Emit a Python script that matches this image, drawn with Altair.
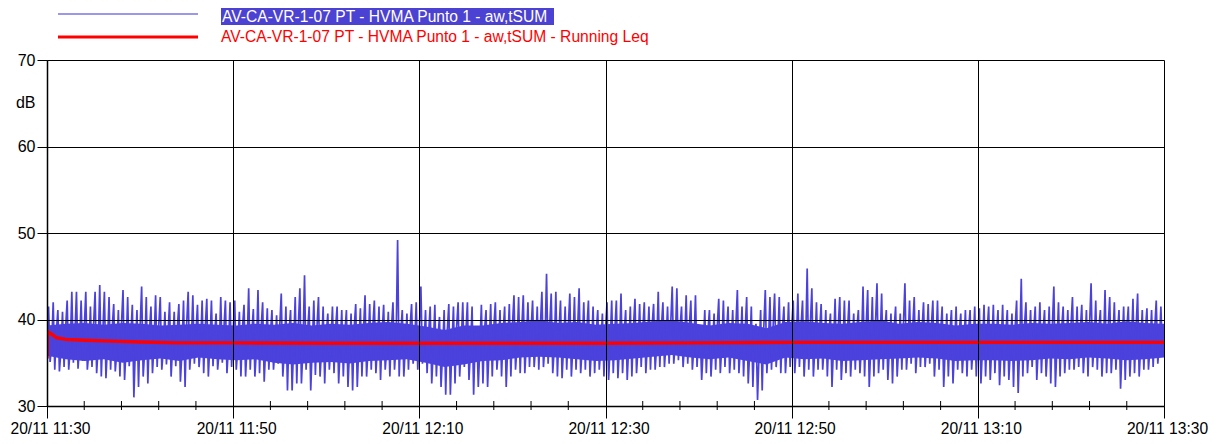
import altair as alt
import pandas as pd

# ---- data ----
# blue series: 6 samples per minute (every 10 s), 20 minutes per block
seg1 = [
    37.5, 41.5, 35.1, 37.0, 42.0, 34.2,
    38.5, 41.1, 34.0, 36.5, 40.9, 34.5,
    39.0, 42.2, 34.2, 36.8, 43.2, 35.0,
    38.2, 43.2, 34.3, 37.2, 42.2, 35.2,
    38.8, 43.2, 34.2, 36.4, 41.5, 34.5,
    39.2, 43.2, 33.8, 36.9, 44.0, 33.4,
    38.6, 43.2, 33.2, 37.1, 42.6, 34.2,
    38.9, 41.8, 34.0, 36.3, 41.1, 33.4,
    39.4, 43.4, 33.0, 36.8, 42.6, 34.6,
    38.1, 41.7, 31.0, 37.0, 41.1, 32.2,
    39.0, 43.8, 33.4, 36.6, 42.6, 32.6,
    38.4, 41.5, 33.8, 37.3, 42.8, 34.5,
    39.1, 42.6, 34.2, 36.7, 40.9, 34.8,
    38.3, 42.0, 33.4, 37.0, 40.9, 34.6,
    38.9, 41.8, 32.8, 36.4, 42.2, 32.2,
    39.3, 43.2, 34.2, 37.1, 42.8, 34.9,
    38.5, 41.7, 34.5, 36.8, 42.2, 33.8,
    39.0, 42.4, 33.4, 37.2, 42.2, 34.6,
    38.2, 40.7, 34.2, 36.5, 42.6, 35.0,
    38.8, 42.2, 33.8, 37.0, 42.0, 34.5,
]
seg2 = [
    38.6, 42.2, 34.2, 36.8, 40.9, 33.4,
    39.0, 41.7, 33.4, 37.1, 43.6, 34.2,
    38.4, 41.2, 33.4, 36.6, 43.4, 33.8,
    38.9, 42.0, 32.8, 37.0, 41.3, 34.2,
    38.2, 41.1, 34.2, 36.9, 40.5, 34.9,
    39.1, 43.0, 33.4, 36.5, 41.5, 31.8,
    38.5, 41.1, 31.8, 37.2, 42.6, 32.6,
    39.2, 43.6, 32.6, 36.8, 45.1, 34.2,
    38.7, 41.5, 31.8, 37.0, 42.2, 33.6,
    39.0, 42.6, 33.4, 36.6, 41.5, 32.6,
    38.3, 40.7, 34.2, 37.2, 41.5, 33.8,
    38.9, 41.5, 32.6, 36.9, 41.1, 33.4,
    38.4, 41.1, 32.2, 36.5, 40.7, 31.8,
    39.0, 41.8, 32.2, 37.1, 41.3, 33.4,
    38.6, 42.8, 33.4, 36.8, 41.8, 34.2,
    39.1, 42.2, 33.8, 37.0, 41.5, 33.0,
    38.3, 41.7, 34.2, 36.6, 40.9, 33.4,
    38.8, 42.0, 34.2, 37.1, 49.2, 33.4,
    38.5, 41.1, 33.4, 36.9, 40.7, 34.2,
    39.0, 41.8, 34.9, 37.2, 42.0, 34.2,
]
seg3 = [
    38.8, 43.8, 34.9, 37.0, 41.1, 33.8,
    38.4, 41.5, 32.6, 36.7, 41.7, 33.4,
    38.0, 40.3, 32.2, 36.4, 41.1, 31.3,
    38.6, 41.8, 31.3, 36.9, 41.5, 32.6,
    39.0, 42.0, 33.4, 37.2, 42.0, 34.5,
    38.5, 42.0, 33.0, 36.6, 41.5, 31.3,
    37.8, 39.2, 32.2, 36.8, 41.7, 32.6,
    38.7, 41.1, 32.2, 37.0, 41.8, 33.4,
    39.0, 42.0, 34.2, 36.7, 41.1, 33.4,
    38.4, 41.5, 32.2, 37.1, 41.8, 33.4,
    39.2, 42.8, 34.2, 37.0, 42.6, 33.8,
    38.8, 42.8, 33.8, 37.3, 42.0, 34.5,
    38.6, 42.2, 34.5, 37.0, 41.5, 34.2,
    39.1, 43.2, 34.5, 37.2, 45.3, 34.9,
    38.9, 43.0, 33.8, 36.8, 43.2, 33.4,
    38.5, 42.2, 33.2, 37.0, 41.5, 34.2,
    39.0, 43.0, 33.4, 37.1, 42.6, 34.2,
    38.7, 43.6, 33.8, 36.9, 42.0, 34.2,
    38.9, 42.2, 33.4, 36.8, 41.5, 33.8,
    38.4, 41.1, 34.2, 37.0, 40.7, 33.4,
]
seg4 = [
    38.8, 42.0, 33.0, 37.0, 42.2, 33.8,
    38.6, 42.2, 33.2, 36.9, 43.0, 33.8,
    38.3, 41.1, 33.0, 37.1, 41.5, 33.4,
    39.0, 42.4, 33.8, 36.8, 41.8, 34.5,
    38.7, 42.0, 33.8, 37.2, 41.5, 34.2,
    39.1, 41.8, 34.2, 37.0, 43.2, 34.5,
    38.9, 42.0, 34.5, 37.3, 41.5, 34.9,
    39.3, 43.8, 34.9, 37.5, 43.6, 35.3,
    38.8, 41.5, 34.5, 37.2, 42.8, 34.9,
    39.0, 42.2, 34.2, 37.0, 42.8, 34.5,
    38.2, 38.8, 33.0, 36.8, 41.1, 33.8,
    38.6, 41.1, 33.4, 37.0, 40.7, 34.2,
    39.0, 42.4, 33.8, 37.1, 42.2, 34.5,
    38.5, 41.5, 33.8, 36.9, 41.1, 34.2,
    39.1, 43.4, 33.8, 37.0, 41.5, 33.4,
    38.6, 42.6, 32.6, 36.5, 41.5, 32.2,
    37.8, 39.5, 30.7, 36.2, 41.1, 31.8,
    38.9, 43.4, 33.8, 37.1, 42.6, 34.2,
    39.0, 43.0, 34.5, 37.2, 42.6, 33.8,
    38.7, 41.5, 33.8, 37.0, 42.0, 34.5,
]
seg5 = [
    38.9, 42.2, 33.8, 37.1, 43.0, 34.5,
    39.0, 42.2, 33.4, 37.0, 45.9, 34.2,
    39.2, 43.6, 33.4, 36.9, 42.0, 34.2,
    38.6, 41.8, 34.2, 37.0, 41.1, 33.4,
    38.4, 40.7, 32.2, 37.1, 42.4, 34.2,
    39.0, 42.6, 33.0, 36.8, 42.2, 33.8,
    38.7, 42.2, 33.4, 37.2, 40.7, 34.2,
    38.9, 41.1, 33.8, 37.0, 43.8, 33.4,
    39.1, 43.4, 32.2, 36.9, 42.6, 33.4,
    39.3, 44.2, 33.8, 37.3, 43.0, 34.2,
    38.5, 41.1, 33.0, 36.8, 40.7, 32.6,
    38.8, 41.5, 33.4, 37.0, 40.7, 34.2,
    39.2, 44.2, 34.2, 37.2, 42.2, 34.9,
    38.9, 42.6, 33.8, 37.0, 41.1, 34.5,
    38.7, 42.0, 34.5, 37.1, 41.8, 34.9,
    39.0, 42.2, 33.4, 36.9, 42.2, 34.2,
    38.4, 41.5, 32.2, 36.8, 40.7, 33.4,
    38.6, 41.1, 32.6, 37.0, 41.5, 34.2,
    38.5, 40.7, 33.8, 36.9, 41.1, 33.4,
    38.7, 41.1, 34.2, 37.0, 41.5, 33.4,
]
seg6 = [
    38.5, 41.3, 32.6, 36.8, 41.7, 33.4,
    38.6, 41.5, 33.0, 37.0, 41.7, 33.8,
    38.2, 41.1, 32.4, 36.9, 41.7, 33.4,
    38.4, 41.1, 33.0, 36.7, 40.7, 32.2,
    38.9, 42.2, 31.5, 37.0, 44.7, 33.4,
    39.0, 42.0, 33.8, 37.1, 41.1, 34.5,
    38.7, 41.5, 33.0, 36.9, 42.0, 33.8,
    38.5, 41.1, 33.4, 36.8, 41.5, 32.6,
    39.0, 43.8, 32.2, 37.0, 42.0, 33.4,
    38.8, 41.5, 33.8, 37.1, 41.1, 34.2,
    39.1, 42.6, 34.2, 37.2, 41.5, 34.5,
    38.6, 41.7, 33.8, 36.9, 41.1, 33.4,
    39.2, 44.2, 34.5, 37.1, 42.2, 34.2,
    38.9, 41.1, 33.4, 37.0, 43.4, 33.8,
    39.0, 42.6, 33.8, 37.2, 42.0, 34.2,
    38.3, 41.1, 32.0, 36.8, 41.5, 33.0,
    38.8, 41.5, 33.4, 37.0, 42.4, 33.8,
    39.0, 43.0, 33.4, 37.1, 41.1, 34.2,
    38.7, 41.3, 34.2, 37.0, 41.1, 34.5,
    38.9, 42.2, 34.9, 37.2, 41.5, 35.7,
]
samples_per_min = 6

# dense core of the blue trace (where the trace is solid), one pair every 2 minutes
core_lo = [35.8, 35.4, 35.2, 35.4, 35.0, 35.3, 35.5, 35.2, 35.6, 35.4,
           35.3, 35.4, 35.0, 34.8, 35.0, 35.1, 34.9, 35.2, 35.3, 35.4,
           35.0, 34.5, 34.8, 35.2, 35.3, 35.6, 35.7, 35.6, 35.4, 35.2,
           35.3, 35.5, 35.7, 35.9, 35.6, 35.4, 35.6, 35.2, 34.8, 35.6,
           35.4, 35.5, 35.2, 35.3, 35.4, 35.5, 35.6, 35.5, 35.2, 35.3,
           35.3, 35.2, 35.3, 35.5, 35.4, 35.6, 35.5, 35.3, 35.4, 35.6]
core_hi = [39.3, 39.5, 39.6, 39.4, 39.6, 39.5, 39.3, 39.4, 39.5, 39.4,
           39.3, 39.5, 39.4, 39.6, 39.3, 39.5, 39.4, 39.6, 39.7, 39.5,
           39.2, 38.8, 39.3, 39.3, 39.6, 39.7, 39.9, 39.6, 39.7, 39.4,
           39.5, 39.6, 39.8, 39.9, 39.6, 39.3, 39.6, 39.5, 39.0, 39.7,
           39.8, 39.6, 39.5, 39.7, 39.9, 39.5, 39.7, 39.6, 39.3, 39.5,
           39.5, 39.4, 39.6, 39.5, 39.6, 39.7, 39.5, 39.8, 39.6, 39.5]

# running Leq (minutes after 11:30, dB)
leq_t = [0, 0.05, 0.5, 1, 2, 4, 7, 10, 14, 20, 30, 40, 50, 60, 70, 80, 90, 100, 110, 120]
leq_v = [35.5, 38.6, 38.3, 37.9, 37.7, 37.6, 37.5, 37.4, 37.3, 37.3, 37.25, 37.25, 37.25,
         37.25, 37.3, 37.35, 37.35, 37.35, 37.35, 37.35]

major_ticks = [0, 20, 40, 60, 80, 100, 120]
minor_ticks = [m for m in range(0, 121, 4) if m % 20 != 0]
y_ticks = [30, 40, 50, 60, 70]
legend_labels = ["AV-CA-VR-1-07 PT - HVMA Punto 1 - aw,tSUM",
                 "AV-CA-VR-1-07 PT - HVMA Punto 1 - aw,tSUM - Running Leq"]

BLUE = "#4B41DC"
RED = "#FF0000"
FONT = "Liberation Sans"

vals = seg1 + seg2 + seg3 + seg4 + seg5 + seg6
blue_df = pd.DataFrame({"t": [i / samples_per_min for i in range(len(vals))], "v": vals})
core_df = pd.DataFrame({"t": [i * 120 / (len(core_lo) - 1) for i in range(len(core_lo))],
                        "lo": core_lo, "hi": core_hi})
leq_df = pd.DataFrame({"t": leq_t, "v": leq_v})
minor_df = pd.DataFrame({"t": minor_ticks})

label_expr = ("'20/11 ' + format(floor((690 + datum.value) / 60), '02d') + ':' + "
              "format((690 + datum.value) % 60, '02d')")

xscale = alt.Scale(domain=[0, 120], nice=False, zero=False)
yscale = alt.Scale(domain=[30, 70], nice=False, zero=False)

xaxis = alt.Axis(values=major_ticks, labelExpr=label_expr, title=None, tickSize=12,
                 labelPadding=3, labelOffset=3, labelFontSize=15.6, labelFlush=False,
                 labelOverlap=False, zindex=1)
yaxis = alt.Axis(values=y_ticks, title="dB", titleAngle=0, titleAlign="right",
                 titleBaseline="middle", titleX=-12, titleY=42, tickSize=10,
                 labelPadding=2, zindex=1)

core = alt.Chart(core_df).mark_area(color=BLUE, clip=True).encode(
    x=alt.X("t:Q", scale=xscale, axis=xaxis),
    y=alt.Y("lo:Q", scale=yscale, axis=yaxis),
    y2="hi:Q",
)
blue = alt.Chart(blue_df).mark_line(color=BLUE, strokeWidth=1.7, clip=True).encode(
    x=alt.X("t:Q", scale=xscale),
    y=alt.Y("v:Q", scale=yscale),
)
red = alt.Chart(leq_df).mark_line(color=RED, strokeWidth=3.4, clip=True).encode(
    x=alt.X("t:Q", scale=xscale),
    y=alt.Y("v:Q", scale=yscale),
)
minor = alt.Chart(minor_df).mark_rule(color="black", strokeWidth=1).encode(
    x=alt.X("t:Q", scale=xscale),
    y=alt.value(341),
    y2=alt.value(350),
)

# legend
leg1_df = pd.DataFrame({"label": [legend_labels[0]]})
leg2_df = pd.DataFrame({"label": [legend_labels[1]]})
leg_bg = alt.Chart(leg1_df).mark_rect(color="#4B41D2").encode(
    x=alt.value(174), x2=alt.value(507), y=alt.value(-52), y2=alt.value(-35))
leg_t1 = alt.Chart(leg1_df).mark_text(align="left", baseline="middle", color="white",
                                      font=FONT, fontSize=15.6).encode(
    x=alt.value(175), y=alt.value(-43), text="label:N")
leg_t2 = alt.Chart(leg2_df).mark_text(align="left", baseline="middle", color=RED,
                                      font=FONT, fontSize=15.6).encode(
    x=alt.value(174), y=alt.value(-23), text="label:N")
leg_l1 = alt.Chart(leg1_df).mark_rule(color="#7A74E4", strokeWidth=1.5).encode(
    x=alt.value(11), x2=alt.value(151), y=alt.value(-46))
leg_l2 = alt.Chart(leg2_df).mark_rule(color=RED, strokeWidth=3).encode(
    x=alt.value(11), x2=alt.value(151), y=alt.value(-23))

chart = alt.layer(core, blue, red, minor, leg_bg, leg_t1, leg_t2, leg_l1, leg_l2).properties(
    width=1117, height=346,
    padding={"left": 39, "top": 52, "right": 52, "bottom": 36},
    autosize=alt.AutoSizeParams(type="none"),
).configure_view(stroke=None).configure_axis(
    labelFont=FONT, titleFont=FONT, labelFontSize=16, titleFontSize=16,
    titleFontWeight="normal", labelColor="black", titleColor="black",
    domainColor="black", tickColor="black", gridColor="black", gridOpacity=1,
    gridWidth=1, domainWidth=1.5, tickWidth=1,
)

chart.save("out.html", embed_options={"renderer": "svg", "actions": False})
